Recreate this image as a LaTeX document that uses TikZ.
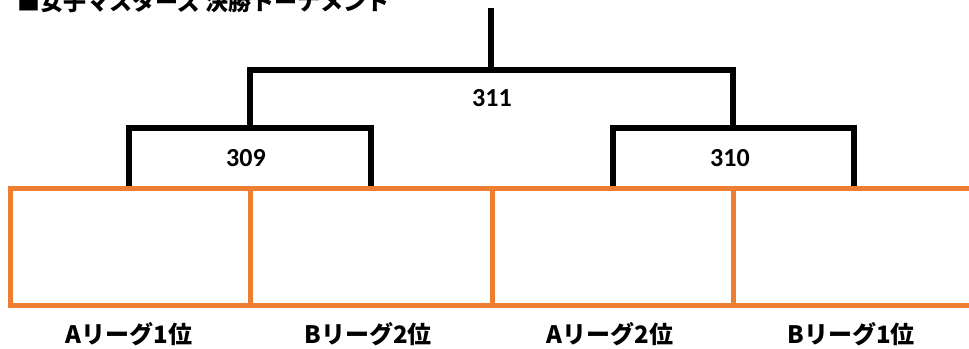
\documentclass[tikz,border=0pt]{standalone}
\usepackage{fontspec}
\newfontfamily\jpfont{Noto Sans CJK JP}
\newfontfamily\numfont{Carlito}
\usetikzlibrary{positioning, calc}

\definecolor{slotorange}{HTML}{ED7D31}

\begin{document}
\begin{tikzpicture}[x=1pt, y=-1pt,
    slotline/.style={draw=slotorange, line width=5pt},
    bracket/.style={draw=black, line width=5.5pt},
    match/.style={font=\numfont\bfseries\fontsize{26}{26}\selectfont},
    seed/.style={font=\jpfont\bfseries\fontsize{24}{24}\selectfont}
]
    \useasboundingbox (0,0) rectangle (969,348);

    % title, cut off at the top
    \node[seed, anchor=base west, inner sep=0pt, font=\jpfont\bfseries\fontsize{23}{23}\selectfont] (title) at (17,10) {■女子マスターズ 決勝トーナメント};

    % bracket joints
    \coordinate (s1) at (129,188);
    \coordinate (s2) at (371,188);
    \coordinate (s3) at (613,188);
    \coordinate (s4) at (854,188);
    \coordinate (j309) at (250,128);
    \coordinate (j310) at (733,128);
    \coordinate (j311) at (491,70);
    \coordinate (top) at (491,8);

    \draw[bracket] (s1) |- (j309) -| (s2);
    \draw[bracket] (s3) |- (j310) -| (s4);
    \draw[bracket] (j309) |- (j311) -| (j310);
    \draw[bracket] (j311) -- (top);

    \node[match] (m309) at (246,158) {309};
    \node[match] (m310) at (730,158) {310};
    \node[match] (m311) at (492,98) {311};

    % slots
    \draw[slotline] (969,188) -- (10,188) -- (10,305) -- (969,305);
    \foreach \x in {250,492,733}
        \draw[slotline] (\x,188) -- (\x,305);

    \node[seed] (seedA1) at (129,334) {Aリーグ1位};
    \node[seed] (seedB2) at (368,334) {Bリーグ2位};
    \node[seed] (seedA2) at (610,334) {Aリーグ2位};
    \node[seed] (seedB1) at (851,334) {Bリーグ1位};
\end{tikzpicture}
\end{document}
